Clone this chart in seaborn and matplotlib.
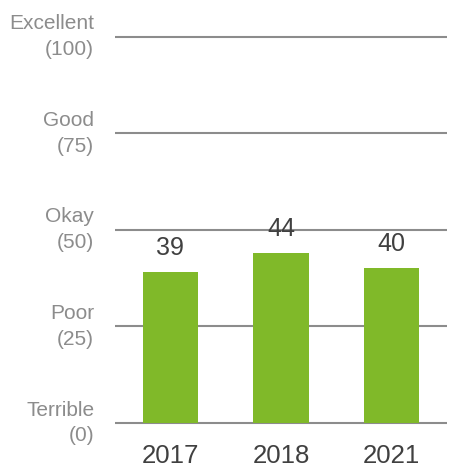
import matplotlib
matplotlib.use("Agg")
import matplotlib.pyplot as plt
import seaborn as sns
import pandas as pd

# datos
years = ["2017", "2018", "2021"]
scores = [39, 44, 40]
level_ticks = [0, 25, 50, 75, 100]
level_labels = ["Terrible\n(0)", "Poor\n(25)", "Okay\n(50)", "Good\n(75)", "Excellent\n(100)"]

df = pd.DataFrame({"year": years, "score": scores})

sns.set_style("white")
plt.rcParams["font.family"] = ["Liberation Sans", "DejaVu Sans"]

fig = plt.figure(figsize=(4.52, 4.76), dpi=100)
ax = fig.add_axes([0.2544, 0.1032, 0.7346, 0.836])

sns.barplot(data=df, x="year", y="score", color="#80b929", width=0.5,
            saturation=1, linewidth=0, ax=ax, zorder=3)

# etiquetas de valor
ax.bar_label(ax.containers[0], labels=[str(v) for v in scores],
             padding=9, fontsize=18, color="#404040")

ax.set_xlim(-0.5, 2.5)
ax.set_ylim(-1, 102)
ax.set_yticks(level_ticks)
ax.set_yticklabels(level_labels, fontsize=15, color="#8c8c8c")
for lbl in ax.get_yticklabels():
    lbl.set_linespacing(1.45)
    lbl.set_verticalalignment("center")
ax.tick_params(axis="y", length=0, pad=15)
ax.tick_params(axis="x", length=0, pad=12, labelsize=18.5, labelcolor="#404040")
ax.set_xlabel("")
ax.set_ylabel("")

ax.yaxis.grid(True, color="#8c8c8c", linewidth=1.5)
ax.set_axisbelow(True)
for s in ax.spines.values():
    s.set_visible(False)

fig.savefig("out.png", dpi=100)
